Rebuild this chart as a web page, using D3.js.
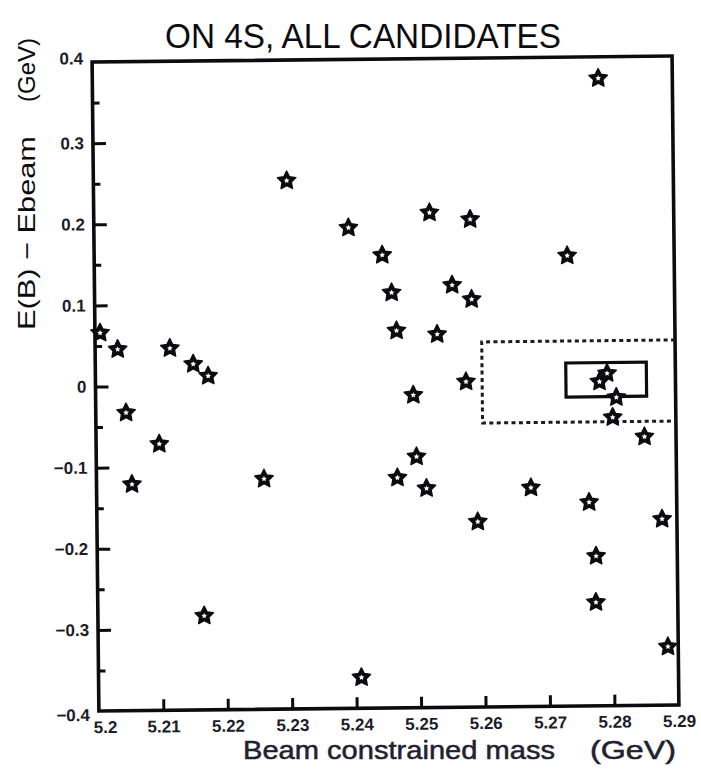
<!DOCTYPE html>
<html>
<head>
<meta charset="utf-8">
<script src="https://cdn.jsdelivr.net/npm/d3@7"></script>
<style>
  html, body { margin: 0; padding: 0; background: #fff; }
  svg { display: block; }
</style>
</head>
<body>
<svg id="chart" width="701" height="771"></svg>
<script>
// B candidate mass vs. energy difference, all candidates on the 4S
const mass = [
  5.2008, 5.2035, 5.2047, 5.2055, 5.2098, 5.2116, 5.2152, 5.2175, 5.2260, 5.2165, 5.2408, 5.2300,
  5.2395, 5.2521, 5.2584, 5.2447, 5.2461, 5.2555, 5.2585, 5.2468, 5.2531, 5.2575, 5.2493, 5.2497,
  5.2467, 5.2512, 5.2591,
  5.2785, 5.2734, 5.2674, 5.2764, 5.2774, 5.2773, 5.2877, 5.2884,
  5.2794, 5.2782, 5.2808, 5.2802, 5.2851
];
const deltaE = [
  0.066, 0.0456, -0.0327, -0.121, -0.0716, 0.0462, 0.0265, 0.0116, -0.116, -0.284, -0.362, 0.2513,
  0.1925, 0.210, 0.2013, 0.1584, 0.1119, 0.1205, 0.1027, 0.065, 0.060, 0.0012, -0.0146, -0.0906,
  -0.1163, -0.1297, -0.1716,
  0.3735, 0.1552, -0.1303, -0.149, -0.2154, -0.2724, -0.1706, -0.328,
  0.0097, -0.0005, -0.02, -0.0446, -0.0689
];
const xTicks = [5.2, 5.21, 5.22, 5.23, 5.24, 5.25, 5.26, 5.27, 5.28, 5.29];
const xTickLabels = ["5.2", "5.21", "5.22", "5.23", "5.24", "5.25", "5.26", "5.27", "5.28", "5.29"];
const yTicks = [-0.4, -0.3, -0.2, -0.1, 0, 0.1, 0.2, 0.3, 0.4];
const yTickLabels = ["\u22120.4", "\u22120.3", "\u22120.2", "\u22120.1", "0", "0.1", "0.2", "0.3", "0.4"];
const yMinorTicks = [-0.35, -0.25, -0.15, -0.05, 0.05, 0.15, 0.25, 0.35];
// sideband and signal windows [mass lo, mass hi, dE lo, dE hi]
const sideWindow = [5.26, 5.29, -0.05, 0.05];
const signalWindow = [5.273, 5.2855, -0.019, 0.023];

const svg = d3.select("#chart");
const ink = "#0c0c10";
const font = "Liberation Sans, Arial, sans-serif";

const x = d3.scaleLinear().domain([5.2, 5.29]).range([95.5, 675.5]);
const y = d3.scaleLinear().domain([-0.4, 0.4]).range([708, 59]);

// title
svg.append("text")
  .attr("x", 363).attr("y", 48)
  .attr("text-anchor", "middle")
  .attr("font-family", font)
  .attr("font-size", 35)
  .attr("textLength", 396)
  .attr("lengthAdjust", "spacingAndGlyphs")
  .attr("fill", ink)
  .text("ON 4S, ALL CANDIDATES");

const g = svg.append("g").attr("transform", "rotate(-0.6, 387, 385)");

// bottom axis, ticks pointing into the frame
const xAxis = d3.axisBottom(x)
  .tickValues(xTicks)
  .tickFormat((d, i) => xTickLabels[i])
  .tickSizeInner(-11).tickSizeOuter(0).tickPadding(10);
const gx = g.append("g").attr("transform", `translate(0,${y(-0.4)})`).call(xAxis);
gx.select(".domain").remove();
gx.selectAll(".tick line").attr("stroke", ink).attr("stroke-width", 3)
  .filter(d => d === 5.2 || d === 5.29).remove();
gx.selectAll(".tick text")
  .attr("font-family", font)
  .attr("font-weight", "bold").attr("font-size", 17).attr("fill", "#1c1c2a")
  .attr("dx", d => d === 5.2 ? 6 : 0);

// left axis, major ticks
const yAxis = d3.axisLeft(y)
  .tickValues(yTicks)
  .tickFormat((d, i) => yTickLabels[i])
  .tickSizeInner(-13).tickSizeOuter(0).tickPadding(9);
const gy = g.append("g").attr("transform", `translate(${x(5.2)},0)`).call(yAxis);
gy.select(".domain").remove();
gy.selectAll(".tick line").attr("stroke", ink).attr("stroke-width", 3)
  .filter(d => d === 0.4 || d === -0.4).remove();
gy.selectAll(".tick text")
  .attr("font-family", font)
  .attr("font-weight", "bold").attr("font-size", 17).attr("fill", "#1c1c2a")
  .attr("dy", d => d === 0.4 ? "0.1em" : (d === -0.4 ? "0.55em" : "0.32em"));

// left axis, minor ticks
const yMinor = d3.axisLeft(y).tickValues(yMinorTicks).tickFormat("")
  .tickSizeInner(-7).tickSizeOuter(0);
const gym = g.append("g").attr("transform", `translate(${x(5.2)},0)`).call(yMinor);
gym.select(".domain").remove();
gym.selectAll(".tick line").attr("stroke", ink).attr("stroke-width", 3);

// frame
g.append("rect")
  .attr("x", x(5.2)).attr("y", y(0.4))
  .attr("width", x(5.29) - x(5.2)).attr("height", y(-0.4) - y(0.4))
  .attr("fill", "none").attr("stroke", ink).attr("stroke-width", 3.6);

// sideband window (dotted), right edge lies on the frame
const [sx0, sx1, sy0, sy1] = sideWindow;
g.append("path")
  .attr("d", `M${x(sx1)},${y(sy1)} L${x(sx0)},${y(sy1)} L${x(sx0)},${y(sy0)} L${x(sx1)},${y(sy0)}`)
  .attr("fill", "none").attr("stroke", "#1a1a22").attr("stroke-width", 3)
  .attr("stroke-dasharray", "4,3.4");

// signal window (solid)
const [bx0, bx1, by0, by1] = signalWindow;
g.append("rect")
  .attr("x", x(bx0)).attr("y", y(by1))
  .attr("width", x(bx1) - x(bx0)).attr("height", y(by0) - y(by1))
  .attr("fill", "none").attr("stroke", ink).attr("stroke-width", 3.2);

// five-pointed star symbol; size is the square of the tip-to-tip diameter
const starType = {
  draw(context, size) {
    const R = Math.sqrt(size) / 2, r = R * 0.5;
    for (let i = 0; i < 10; i++) {
      const rad = i % 2 === 0 ? R : r;
      const a = -Math.PI / 2 + i * Math.PI / 5;
      const px = rad * Math.cos(a), py = rad * Math.sin(a);
      if (i === 0) context.moveTo(px, py); else context.lineTo(px, py);
    }
    context.closePath();
  }
};
const starBody = d3.symbol().type(starType).size(19.4 * 19.4);
const starEye = d3.symbol().type(starType).size(5.8 * 5.8);

const points = mass.map((m, i) => [m, deltaE[i]]);
const marks = g.append("g").selectAll("g")
  .data(points)
  .join("g")
  .attr("transform", d => `translate(${x(d[0])},${y(d[1])})`);
marks.append("path")
  .attr("d", starBody)
  .attr("fill", ink).attr("stroke", ink)
  .attr("stroke-width", 1.4).attr("stroke-linejoin", "round");
marks.append("path")
  .attr("d", starEye)
  .attr("fill", "#fff");

// axis titles
svg.append("text")
  .attr("x", 243).attr("y", 759)
  .attr("font-family", font)
  .attr("font-size", 25).attr("fill", "#22222e")
  .attr("stroke", "#22222e").attr("stroke-width", 0.5)
  .attr("textLength", 312).attr("lengthAdjust", "spacingAndGlyphs")
  .text("Beam constrained mass");
svg.append("text")
  .attr("x", 590).attr("y", 759)
  .attr("font-family", font)
  .attr("font-size", 25).attr("fill", "#22222e")
  .attr("stroke", "#22222e").attr("stroke-width", 0.5)
  .attr("textLength", 86).attr("lengthAdjust", "spacingAndGlyphs")
  .text("(GeV)");

svg.append("text")
  .attr("transform", "translate(35,330) rotate(-90)")
  .attr("font-family", font)
  .attr("font-size", 24).attr("fill", ink)
  .attr("textLength", 194).attr("lengthAdjust", "spacingAndGlyphs")
  .text("E(B) \u2212 Ebeam");
svg.append("text")
  .attr("transform", "translate(35,102) rotate(-90)")
  .attr("font-family", font)
  .attr("font-size", 24).attr("fill", ink)
  .attr("textLength", 64).attr("lengthAdjust", "spacingAndGlyphs")
  .text("(GeV)");
</script>
</body>
</html>
